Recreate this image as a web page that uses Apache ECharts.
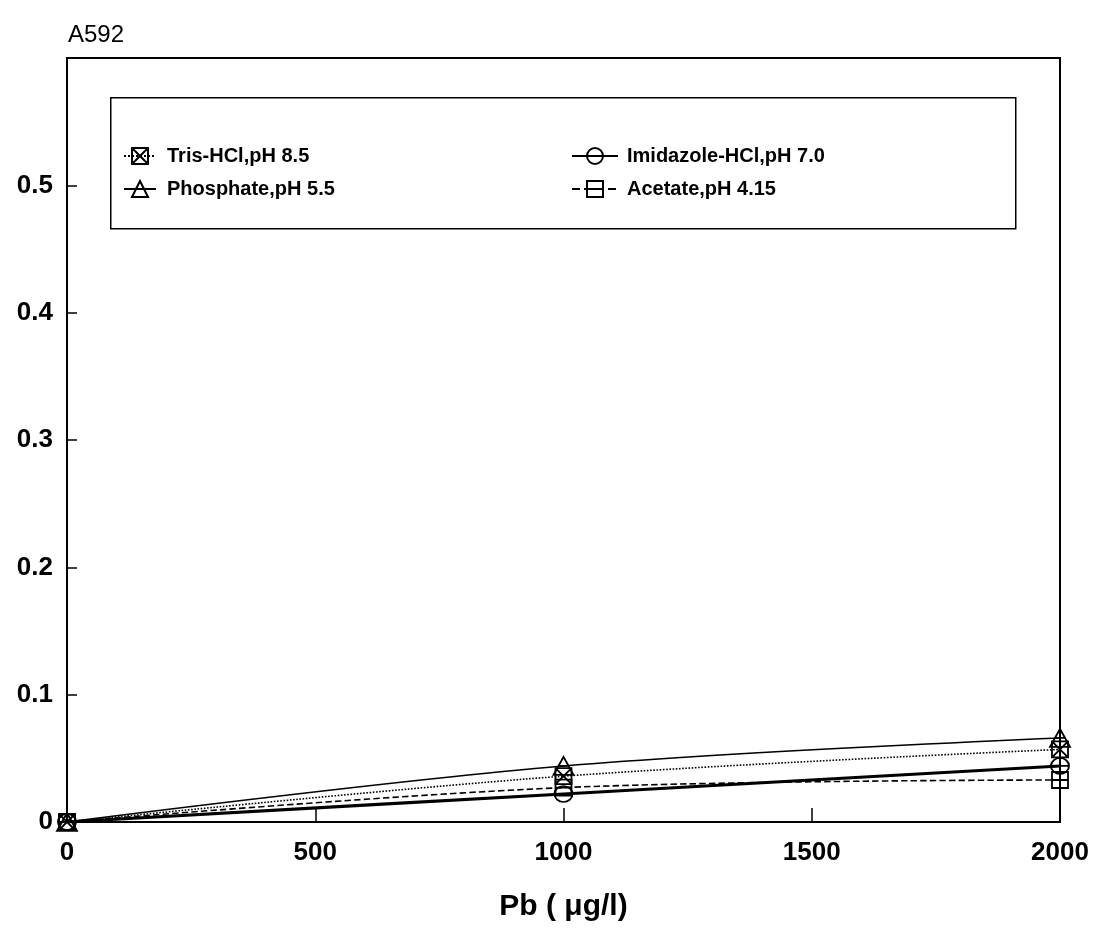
<!DOCTYPE html>
<html>
<head>
<meta charset="utf-8">
<script src="https://cdn.jsdelivr.net/npm/echarts@6/dist/echarts.min.js"></script>
<style>
  html, body { margin: 0; padding: 0; background: #fff; }
  #chart { width: 1100px; height: 939px; }
</style>
</head>
<body>
<div id="chart"></div>
<script>
// Pb concentration (µg/l) and absorbance at 592 nm for each buffer
const pbLevels = [0, 1000, 2000];
const trisHCl = [0, 0.036, 0.057];
const imidazoleHCl = [0, 0.022, 0.044];
const phosphate = [0, 0.044, 0.066];
const acetate = [0, 0.027, 0.033];
const seriesNames = ['Tris-HCl,pH 8.5', 'Imidazole-HCl,pH 7.0', 'Phosphate,pH 5.5', 'Acetate,pH 4.15'];

const FONT = '"Liberation Sans", Arial, sans-serif';
const boxX = 'path://M0,0 L10,0 L10,10 L0,10 Z M0,0 L10,10 M10,0 L0,10';
const circleBar = 'path://M5,0 A5,5 0 1,1 4.99,0 Z M0,5 L10,5';
const squareBar = 'path://M0,0 L10,0 L10,10 L0,10 Z M0,5 L10,5';
const triBar = 'path://M5,0 L10,10 L0,10 Z M2.5,5 L7.5,5';

function pairs(ys) { return pbLevels.map((x, i) => [x, ys[i]]); }

function mkSeries(name, ys, symbol, size, lineType, lineWidth) {
  return {
    name: name,
    type: 'line',
    data: pairs(ys),
    smooth: 0.35,
    symbol: symbol,
    symbolSize: size,
    showAllSymbol: true,
    lineStyle: { color: '#000', width: lineWidth, type: lineType },
    itemStyle: { color: 'rgba(255,255,255,0)', borderColor: '#000', borderWidth: 1.8 },
    emphasis: { disabled: true },
    z: 3
  };
}

const chart = echarts.init(document.getElementById('chart'), null, { renderer: 'canvas' });

const legendText = { fontFamily: FONT, fontSize: 20, fontWeight: 'bold', color: '#000' };

chart.setOption({
  backgroundColor: '#fff',
  animation: false,
  grid: { left: 67, right: 40, top: 58, bottom: 117, show: true, borderColor: '#000', borderWidth: 2, backgroundColor: 'transparent' },
  title: {
    text: 'A592', left: 63, top: 18,
    textStyle: { fontFamily: FONT, fontSize: 24, fontWeight: 'normal', color: '#000' }
  },
  graphic: [{
    type: 'rect', left: 110, top: 97,
    shape: { width: 905, height: 131 },
    style: { fill: 'transparent', stroke: '#000', lineWidth: 1.5 },
    z: 1
  }],
  legend: [
    {
      data: [seriesNames[0], seriesNames[2]],
      orient: 'vertical', left: 118, top: 141, itemGap: 13,
      itemWidth: 32, itemHeight: 20, selectedMode: false,
      textStyle: Object.assign({ padding: [0, 0, 0, 6] }, legendText)
    },
    {
      data: [seriesNames[1], seriesNames[3]],
      orient: 'vertical', left: 566, top: 141, itemGap: 13,
      itemWidth: 46, itemHeight: 20, selectedMode: false,
      textStyle: Object.assign({ padding: [0, 0, 0, 4] }, legendText)
    }
  ],
  xAxis: {
    type: 'value', min: 0, max: 2000, interval: 500,
    name: 'Pb ( μg/l)', nameLocation: 'middle', nameGap: 70,
    nameTextStyle: { fontFamily: FONT, fontSize: 30, fontWeight: 'bold', color: '#000' },
    axisLine: { show: true, lineStyle: { color: '#000', width: 2 } },
    axisTick: { show: true, inside: true, length: 14, lineStyle: { color: '#000', width: 1.5 } },
    splitLine: { show: false },
    axisLabel: {
      margin: 18, fontFamily: FONT, fontSize: 26, fontWeight: 'bold', color: '#000',
      formatter: function (v) { return String(v); }
    }
  },
  yAxis: {
    type: 'value', min: 0, max: 0.6, interval: 0.1,
    axisLine: { show: true, lineStyle: { color: '#000', width: 2 } },
    axisTick: { show: true, inside: true, length: 10, lineStyle: { color: '#000', width: 1.5 } },
    splitLine: { show: false },
    axisLabel: {
      margin: 14, fontFamily: FONT, fontSize: 26, fontWeight: 'bold', color: '#000',
      formatter: function (v) {
        if (v === 0) return '0';
        if (v > 0.55) return '';
        return v.toFixed(1);
      }
    }
  },
  series: [
    mkSeries(seriesNames[0], trisHCl, boxX, 16, 'dotted', 1.6),
    mkSeries(seriesNames[1], imidazoleHCl, circleBar, [18, 16], 'solid', 3.2),
    mkSeries(seriesNames[2], phosphate, triBar, [20, 18], 'solid', 1.6),
    mkSeries(seriesNames[3], acetate, squareBar, 16, 'dashed', 1.6)
  ]
});
</script>
</body>
</html>
